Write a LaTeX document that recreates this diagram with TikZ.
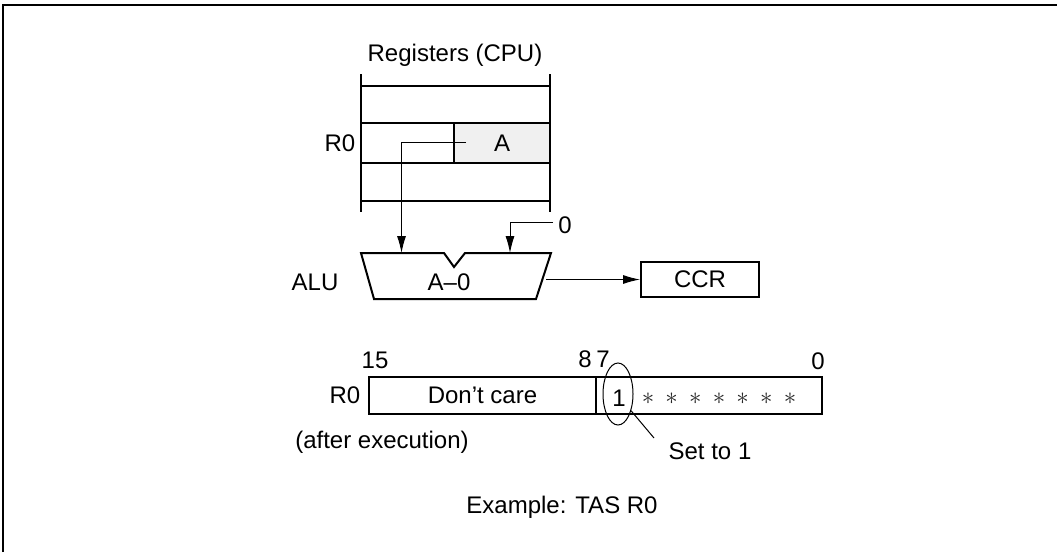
\documentclass[tikz,border=0pt]{standalone}
\usepackage{fontspec}
\setmainfont{Liberation Sans}
\usetikzlibrary{arrows.meta,shapes.geometric}
\begin{document}
\begin{tikzpicture}[x=1pt,y=-1pt,
  lbl/.style={font=\fontsize{24}{28}\selectfont, inner sep=0pt},
  arr/.style={line width=1pt,-{Latex[length=17pt,width=9pt]}},
  heavy/.style={line width=2pt},
  boxn/.style={draw,line width=2pt,inner sep=0pt,font=\fontsize{24}{28}\selectfont},
  star/.style={inner sep=0pt,font=\fontsize{23}{26}\selectfont,text=black!85}]
\useasboundingbox (0,0) rectangle (1057,552);
\draw[heavy] (3,552) -- (3,5) -- (1057,5);

% Registers
\node[lbl] (regt) at (455,55) {Registers (CPU)};
\node[boxn, fill=black!6, minimum width=96pt, minimum height=40pt] (A) at (502,143) {A};
\draw[heavy] (361,74) -- (361,212) (550,74) -- (550,212);
\foreach \yy in {86,123,163,201} \draw[heavy] (361,\yy) -- (550,\yy);
\node[lbl] (r0a) at (340,143) {R0};

% ALU
\draw[heavy] (361,253) -- (444,253) -- (454,267) -- (465,253) -- (551,253) -- (536,299) -- (374,299) -- cycle;
\node[lbl] (aluop) at (449,282) {A–0};
\node[lbl] (alul) at (315,282) {ALU};
\node[lbl] (zero) at (565,225) {0};
\coordinate (As) at (466,142);
\coordinate (aluIn1) at (401.5,253);
\coordinate (zs) at (553,222);
\coordinate (aluIn2) at (510,253);
\coordinate (aluOut) at (546,279.5);
\draw[arr] (As) -| (aluIn1);
\draw[arr] (zs) -| (aluIn2);
\node[boxn, minimum width=118pt, minimum height=35.5pt] (ccr) at (700,279.5) {CCR};
\draw[arr] (aluOut) -- (ccr.west);

% R0 after execution
\node[boxn, minimum width=227pt, minimum height=37pt] (dc) at (482.5,395.5) {Don’t care};
\node[boxn, minimum width=226pt, minimum height=37pt] (low) at (709,395.5) {};
\node[lbl] (b15) at (375,360) {15};
\node[lbl] (b8) at (585,359) {8};
\node[lbl] (b7) at (603,359) {7};
\node[lbl] (b0) at (818,361) {0};
\node[lbl] (r0b) at (345,395) {R0};
\node[lbl] (after) at (382,442) {(after execution)};
\node[lbl] (one) at (619,398) {1};
\node[draw, ellipse, line width=1pt, minimum width=30pt, minimum height=62pt, inner sep=0pt] (ell) at (618,394) {};
\foreach \i in {0,...,6} \node[star] (s\i) at (648+23.67*\i,399) {$\ast$};
\node[lbl] (setto) at (710,451) {Set to 1};
\coordinate (lead) at (654,438);
\draw[line width=1pt] (ell.-52) -- (lead);

\node[lbl] (ex) at (562,507) {Example: TAS R0};
\end{tikzpicture}
\end{document}
